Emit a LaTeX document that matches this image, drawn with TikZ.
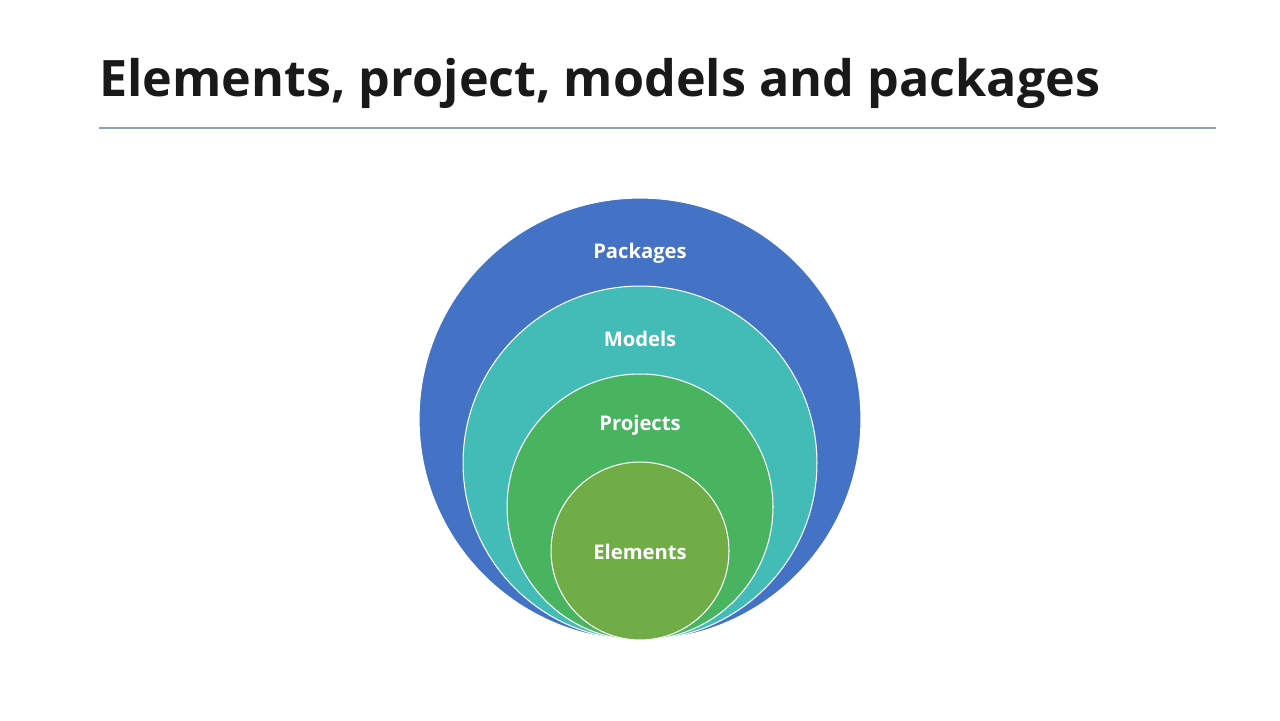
\documentclass[tikz,border=0pt]{standalone}
\usepackage{fontspec}
\setmainfont{Open Sans}
\usepackage{xcolor}
\usetikzlibrary{positioning}

\definecolor{pkgblue}{RGB}{68,114,196}
\definecolor{mdlteal}{RGB}{67,188,184}
\definecolor{prjgreen}{RGB}{72,180,96}
\definecolor{elmgreen}{RGB}{112,173,71}
\definecolor{rulegray}{RGB}{140,162,182}

\begin{document}
\begin{tikzpicture}[
    x=0.02cm, y=-0.02cm,
    ring/.style={circle, draw=white, line width=0.6pt, inner sep=0pt},
    ringlabel/.style={text=white, font=\fontsize{11.5}{14}\selectfont\bfseries},
    title/.style={anchor=base west, inner sep=0pt, font=\fontsize{28.6}{34}\selectfont\bfseries, text=black!90}
]
    \useasboundingbox (0,0) rectangle (1280,720);

    % Title and rule
    \node[title] (title) at (99,96) {Elements, project, models and packages};
    \coordinate (ruleL) at (99,128);
    \coordinate (ruleR) at (1216,128);
    \draw[rulegray, line width=0.6pt] (ruleL) -- (ruleR);

    % Nested circles, all touching at the bottom
    \node[ring, fill=pkgblue, minimum size=8.84cm] (packages) at (640,419) {};
    \node[ring, fill=mdlteal, minimum size=7.08cm] (models) at (640,463) {};
    \node[ring, fill=prjgreen, minimum size=5.32cm] (projects) at (640,507) {};
    \node[ring, fill=elmgreen, minimum size=3.56cm] (elements) at (640,551) {};

    % Labels
    \node[ringlabel] (pkgLabel) at (640,253) {Packages};
    \node[ringlabel] (mdlLabel) at (640,339) {Models};
    \node[ringlabel] (prjLabel) at (640,425) {Projects};
    \node[ringlabel] (elmLabel) at (640,552) {Elements};
\end{tikzpicture}
\end{document}
